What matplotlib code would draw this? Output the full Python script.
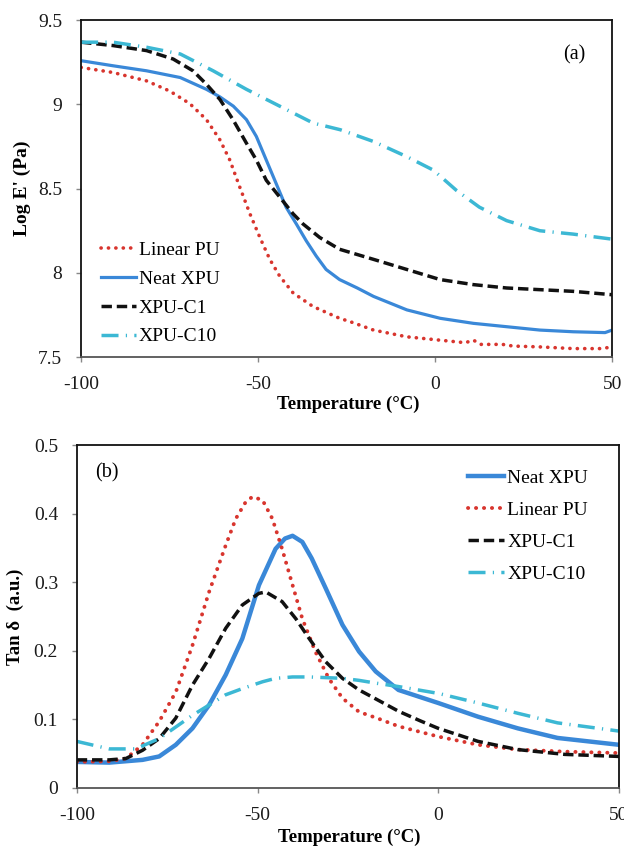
import numpy as np
import matplotlib
matplotlib.use("Agg")
import matplotlib.pyplot as plt

plt.rcParams['font.family'] = ['Liberation Serif', 'DejaVu Serif']
plt.rcParams['axes.unicode_minus'] = False

# ---- Panel (a): Log E' (Pa) vs temperature ----
a_lin_T = [-100, -91, -81.5, -75, -69.3, -64.6, -60.8, -58, -55.2, -52.3, -49.5, -46.7, -43.9, -40.1,
           -34.5, -27, -24, -17.4, -8, 1.4, 8.5, 10.8, 13, 19, 22, 29.6, 39, 47, 50]
a_lin_v = [9.22, 9.19, 9.14, 9.08, 9.005, 8.91, 8.79, 8.67, 8.51, 8.35, 8.21, 8.08, 7.98, 7.88,
           7.80, 7.73, 7.71, 7.66, 7.62, 7.60, 7.585, 7.60, 7.575, 7.575, 7.565, 7.56, 7.55, 7.55, 7.56]

a_neat_T = [-100, -91, -81.5, -72, -64.6, -60.8, -57, -53.3, -50.5, -47.7, -44.9, -42.1, -39.2, -36.4,
            -33.6, -30.8, -27, -22, -17.4, -8, 1.4, 10.8, 20.2, 29.6, 39, 48, 50]
a_neat_v = [9.26, 9.23, 9.20, 9.16, 9.09, 9.045, 8.99, 8.91, 8.81, 8.67, 8.53, 8.39, 8.29, 8.19,
            8.10, 8.02, 7.96, 7.91, 7.86, 7.78, 7.73, 7.70, 7.68, 7.66, 7.65, 7.645, 7.66]

a_c1_T = [-100, -91, -81.5, -74, -68.4, -64.6, -60.8, -57.1, -53.3, -50.5, -47.7, -43.9, -40.1, -37.3,
          -32.6, -27, -17.4, -8, 1.4, 10.8, 20.2, 29.6, 39, 50]
a_c1_v = [9.37, 9.35, 9.32, 9.27, 9.20, 9.12, 9.03, 8.91, 8.77, 8.67, 8.55, 8.45, 8.35, 8.29,
          8.21, 8.14, 8.08, 8.02, 7.96, 7.93, 7.91, 7.90, 7.89, 7.87]

a_c10_T = [-100, -91, -81.5, -72, -62.7, -53.3, -43.9, -34.5, -26.8, -17.4, -8, -0.5, 6, 12.5,
           20.2, 29.6, 39, 50]
a_c10_v = [9.37, 9.37, 9.34, 9.30, 9.20, 9.09, 8.99, 8.89, 8.85, 8.78, 8.69, 8.61, 8.49, 8.39,
           8.31, 8.25, 8.23, 8.20]

# ---- Panel (b): Tan delta vs temperature ----
b_neat_T = [-100, -91, -81.8, -77.2, -72.6, -68, -63.4, -58.8, -54.2, -49.6, -45, -42.4, -40.3, -37.6,
            -35, -31.1, -26.5, -21.9, -17.3, -11, 0, 11, 22, 33, 50]
b_neat_v = [0.038, 0.037, 0.041, 0.046, 0.063, 0.087, 0.121, 0.165, 0.218, 0.296, 0.349, 0.364, 0.368, 0.359,
            0.335, 0.291, 0.238, 0.199, 0.170, 0.143, 0.124, 0.104, 0.087, 0.073, 0.063]

b_lin_T = [-100, -91, -86.4, -81.8, -77.2, -72.6, -68, -63.4, -58.8, -56, -53.3, -51.4, -48.6, -45.9,
           -43.2, -40.3, -37.6, -34, -30.3, -26.5, -21.9, -17, -11, 0, 11, 22, 35, 50]
b_lin_v = [0.038, 0.039, 0.043, 0.063, 0.097, 0.140, 0.208, 0.286, 0.354, 0.393, 0.417, 0.425, 0.420, 0.393,
           0.349, 0.296, 0.247, 0.199, 0.160, 0.131, 0.111, 0.102, 0.090, 0.075, 0.063, 0.056, 0.053, 0.051]

b_c1_T = [-100, -91, -86.4, -81.8, -77.2, -72.6, -68, -63.4, -58.8, -54.2, -49.6, -47.7, -43.2, -39.4,
          -35.7, -31.1, -26.5, -21.9, -17.3, -11, -5, 0, 11, 22, 35, 50]
b_c1_v = [0.041, 0.041, 0.043, 0.055, 0.072, 0.102, 0.150, 0.189, 0.233, 0.267, 0.284, 0.286, 0.272, 0.247,
          0.218, 0.184, 0.160, 0.143, 0.130, 0.112, 0.098, 0.087, 0.068, 0.056, 0.049, 0.046]

b_c10_T = [-100, -91, -83.7, -77.2, -68, -63.4, -58.8, -54.2, -48.6, -45, -40.3, -35.7, -31.1, -26.5,
           -21.9, -17.3, -11, 0, 11, 22, 33, 50]
b_c10_v = [0.068, 0.057, 0.057, 0.072, 0.106, 0.121, 0.136, 0.145, 0.155, 0.160, 0.162, 0.162, 0.161, 0.160,
           0.157, 0.153, 0.148, 0.138, 0.124, 0.109, 0.095, 0.083]

x_ticks = [-100, -50, 0, 50]
a_yticks = [7.5, 8, 8.5, 9, 9.5]
a_ylabels = ['7.5', '8', '8.5', '9', '9.5']
b_yticks = [0, 0.1, 0.2, 0.3, 0.4, 0.5]
b_ylabels = ['0', '0.1', '0.2', '0.3', '0.4', '0.5']

RED = '#d8352e'
BLUE = '#3a88d8'
CYAN = '#3cb8d4'
BLACK = '#111111'

DOT = (0, (0.05, 2.0))
DASH = (0, (3.0, 1.4))
DASHDOT = (0, (4.9, 2.1, 0.35, 2.1))

fig = plt.figure(figsize=(6.24, 8.46), dpi=100)


def style(ax):
    for s in ax.spines.values():
        s.set_linewidth(1.3)
        s.set_color('#111111')
    ax.spines['bottom'].set_color('#555555')
    ax.tick_params(direction='out', length=3.5, width=1.0, color='#888888',
                   labelsize=14, labelcolor='#1a1a1a')
    ax.tick_params(axis='x', pad=10)
    ax.tick_params(axis='y', pad=10)


# Panel (a)
ax1 = fig.add_axes([0.130, 0.578, 0.851, 0.398])
ax1.plot(a_lin_T, a_lin_v, color=RED, lw=2.6, linestyle=DOT, dash_capstyle='round', label='Linear PU')
ax1.plot(a_neat_T, a_neat_v, color=BLUE, lw=2.3, label='Neat XPU')
ax1.plot(a_c1_T, a_c1_v, color=BLACK, lw=2.5, linestyle=DASH, label='XPU-C1')
ax1.plot(a_c10_T, a_c10_v, color=CYAN, lw=2.5, linestyle=DASHDOT, label='XPU-C10')
ax1.set_xlim(-100, 50)
ax1.set_ylim(7.5, 9.5)
ax1.set_xticks(x_ticks)
ax1.set_yticks(a_yticks)
ax1.set_yticklabels(a_ylabels)
ax1.set_xlabel('Temperature (\u00b0C)', fontsize=13.5, fontweight='bold')
ax1.set_ylabel("Log E' (Pa)", fontsize=14, fontweight='bold')
ax1.xaxis.set_label_coords(0.503, -0.142)
ax1.xaxis.label.set_va('center')
ax1.yaxis.set_label_coords(-0.111, 0.5)
ax1.yaxis.label.set_va('center')
style(ax1)
ax1.text(0.928, 0.896, '(a)', transform=ax1.transAxes, fontsize=14.5, ha='center', va='center')
ax1.legend(loc='lower left', bbox_to_anchor=(0.012, -0.006), frameon=False, fontsize=14,
           handlelength=1.8, handletextpad=0.15, labelspacing=0.58, borderaxespad=0.3)

# Panel (b)
ax2 = fig.add_axes([0.123, 0.0686, 0.869, 0.405])
ax2.plot(b_neat_T, b_neat_v, color=BLUE, lw=3.2, label='Neat XPU')
ax2.plot(b_lin_T, b_lin_v, color=RED, lw=2.8, linestyle=DOT, dash_capstyle='round', label='Linear PU')
ax2.plot(b_c1_T, b_c1_v, color=BLACK, lw=2.5, linestyle=DASH, label='XPU-C1')
ax2.plot(b_c10_T, b_c10_v, color=CYAN, lw=2.5, linestyle=DASHDOT, label='XPU-C10')
ax2.set_xlim(-100, 50)
ax2.set_ylim(0, 0.5)
ax2.set_xticks(x_ticks)
ax2.set_yticks(b_yticks)
ax2.set_yticklabels(b_ylabels)
ax2.set_xlabel('Temperature (\u00b0C)', fontsize=13.5, fontweight='bold')
ax2.set_ylabel('Tan \u03b4  (a.u.)', fontsize=13.5, fontweight='bold')
ax2.xaxis.set_label_coords(0.503, -0.143)
ax2.xaxis.label.set_va('center')
ax2.yaxis.set_label_coords(-0.113, 0.5)
ax2.yaxis.label.set_va('center')
style(ax2)
ax2.text(0.055, 0.921, '(b)', transform=ax2.transAxes, fontsize=14.5, ha='center', va='center')
ax2.legend(loc='upper right', bbox_to_anchor=(0.968, 0.97), frameon=False, fontsize=14,
           handlelength=1.85, handletextpad=0.15, labelspacing=0.74, borderaxespad=0.3)

fig.savefig('out.png', dpi=100)
